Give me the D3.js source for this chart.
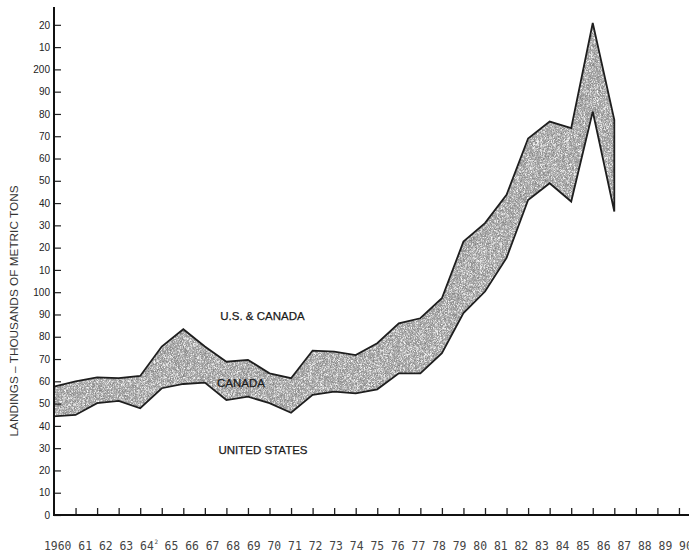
<!DOCTYPE html>
<html>
<head>
<meta charset="utf-8">
<script src="https://cdn.jsdelivr.net/npm/d3@7"></script>
<style>
  html, body { margin: 0; padding: 0; background: #fff; }
  svg { display: block; }
</style>
</head>
<body>
<svg id="chart" width="689" height="555"></svg>
<script>
// Landings, thousands of metric tons, 1960-1986
const years = [1960, 1961, 1962, 1963, 1964, 1965, 1966, 1967, 1968, 1969,
               1970, 1971, 1972, 1973, 1974, 1975, 1976, 1977, 1978, 1979,
               1980, 1981, 1982, 1983, 1984, 1985, 1986];
// Combined U.S. & Canada landings (top edge of the band)
const usCanada = [57.6, 60.0, 61.8, 61.4, 62.4, 75.6, 83.4, 75.6, 68.8, 69.6,
                  63.6, 61.4, 73.8, 73.3, 71.8, 77.1, 86.0, 88.3, 97.3, 122.7,
                  131.0, 143.7, 169.0, 176.6, 173.6, 220.8, 177.4];
// United States landings (bottom edge of the band)
const unitedStates = [44.3, 44.9, 50.2, 51.2, 47.9, 56.9, 58.8, 59.4, 51.6, 53.1,
                      50.2, 45.9, 53.9, 55.4, 54.6, 56.4, 63.6, 63.6, 72.6, 90.6,
                      100.3, 115.4, 141.4, 148.9, 140.7, 181.1, 136.2];
// Year tick labels along the bottom
const yearLabels = ["1960", "61", "62", "63", "64", "65", "66", "67", "68", "69",
                    "70", "71", "72", "73", "74", "75", "76", "77", "78", "79",
                    "80", "81", "82", "83", "84", "85", "86", "87", "88", "89", "90"];
const footnoteYear = "64";
const footnoteMark = "2";
const yTicks = d3.range(0, 221, 10);

const svg = d3.select("#chart");
const W = 689;

const x = d3.scaleLinear().domain([1960, 1990]).range([54, 700.5]);
const y = d3.scaleLinear().domain([0, 228]).range([515, 7]);

// fine stipple texture for the shaded band: dark and light specks over mid grey
const defs = svg.append("defs");
const f = defs.append("filter").attr("id", "grain")
  .attr("x", 0).attr("y", 0).attr("width", 1).attr("height", 1);
f.append("feTurbulence").attr("type", "fractalNoise").attr("baseFrequency", 1.6)
  .attr("numOctaves", 1).attr("seed", 7).attr("result", "noise");
f.append("feColorMatrix").attr("in", "noise").attr("type", "matrix")
  .attr("values", "0 0 0 0 0.22  0 0 0 0 0.22  0 0 0 0 0.22  0 0 0 3 -1.25")
  .attr("result", "dark");
f.append("feTurbulence").attr("type", "fractalNoise").attr("baseFrequency", 1.7)
  .attr("numOctaves", 1).attr("seed", 23).attr("result", "noise2");
f.append("feColorMatrix").attr("in", "noise2").attr("type", "matrix")
  .attr("values", "0 0 0 0 1  0 0 0 0 1  0 0 0 0 1  0 0 0 3 -1.4")
  .attr("result", "light");
f.append("feComposite").attr("in", "dark").attr("in2", "SourceGraphic")
  .attr("operator", "in").attr("result", "darkClip");
f.append("feComposite").attr("in", "light").attr("in2", "SourceGraphic")
  .attr("operator", "in").attr("result", "lightClip");
const fm = f.append("feMerge");
fm.append("feMergeNode").attr("in", "SourceGraphic");
fm.append("feMergeNode").attr("in", "darkClip");
fm.append("feMergeNode").attr("in", "lightClip");

const rows = years.map((yr, i) => ({ yr, hi: usCanada[i], lo: unitedStates[i] }));

const area = d3.area()
  .x(d => x(d.yr))
  .y0(d => y(d.lo))
  .y1(d => y(d.hi));

svg.append("path")
  .datum(rows)
  .attr("d", area)
  .attr("fill", "#a9a9a9")
  .attr("filter", "url(#grain)");

svg.append("path")
  .datum(rows)
  .attr("d", area)
  .attr("fill", "none")
  .attr("stroke", "#1e1e1e")
  .attr("stroke-width", 1.8)
  .attr("stroke-linejoin", "miter");

// Y axis
const yAxis = d3.axisLeft(y)
  .tickValues(yTicks)
  .tickSize(-7)
  .tickPadding(4)
  .tickFormat(v => (v === 0 || v % 100 === 0) ? String(v) : String(v % 100));

const gy = svg.append("g").attr("transform", "translate(54,0)").call(yAxis);
gy.select(".domain").remove();
gy.selectAll(".tick line").attr("stroke", "#222").attr("stroke-width", 1.2);
gy.selectAll(".tick text")
  .attr("fill", "#222")
  .style("font-family", "'Liberation Sans', Arial, sans-serif")
  .style("font-size", "10px");

svg.append("line")
  .attr("x1", 54).attr("x2", 54)
  .attr("y1", y(0) + 1).attr("y2", y(228))
  .attr("stroke", "#111").attr("stroke-width", 2);

// X axis
const xAxis = d3.axisBottom(x)
  .tickValues(d3.range(1961, 1990))
  .tickSize(-7)
  .tickFormat("");
const gx = svg.append("g").attr("transform", `translate(0,${y(0)})`).call(xAxis);
gx.select(".domain").remove();
gx.selectAll(".tick line").attr("stroke", "#222").attr("stroke-width", 1.3);

svg.append("line")
  .attr("x1", 53).attr("x2", W)
  .attr("y1", y(0)).attr("y2", y(0))
  .attr("stroke", "#111").attr("stroke-width", 2);

// Year labels, laid out like a typed line of monospace text:
// "1960" then each two-digit year three character cells further on,
// with a little extra room after the footnoted year.
const cell = d3.scaleLinear().domain([0, 1]).range([44, 44 + 6.86]);
const fnIndex = yearLabels.indexOf(footnoteYear);
const labelCenter = i => cell(i === 0 ? 2 : 3 * i + 3) + (i > fnIndex ? 4 : 0);

const labelFont = "'DejaVu Sans Mono', 'Liberation Mono', monospace";
svg.append("g").selectAll("text").data(yearLabels).enter().append("text")
  .attr("x", (d, i) => labelCenter(i))
  .attr("y", 550)
  .attr("text-anchor", "middle")
  .attr("fill", "#444")
  .style("font-family", labelFont)
  .style("font-size", "11.4px")
  .text(d => d);

svg.append("text")
  .attr("x", labelCenter(fnIndex) + 7.5)
  .attr("y", 544)
  .attr("fill", "#444")
  .style("font-family", labelFont)
  .style("font-size", "6px")
  .text(footnoteMark);

// Y axis title
svg.append("text")
  .attr("transform", "translate(18,311) rotate(-90)")
  .attr("text-anchor", "middle")
  .attr("fill", "#333")
  .style("font-family", "'Liberation Sans', Arial, sans-serif")
  .style("font-size", "11.8px")
  .text("LANDINGS – THOUSANDS OF METRIC TONS");

// Band annotations
const notes = [
  { text: "U.S. & CANADA", cx: 262.5, by: 320 },
  { text: "CANADA", cx: 241, by: 387 },
  { text: "UNITED STATES", cx: 263, by: 454 }
];
svg.selectAll("text.note").data(notes).enter().append("text")
  .attr("class", "note")
  .attr("x", d => d.cx).attr("y", d => d.by)
  .attr("text-anchor", "middle")
  .attr("fill", "#1a1a1a")
  .attr("stroke", "#1a1a1a")
  .attr("stroke-width", 0.25)
  .style("font-family", "'Liberation Sans', Arial, sans-serif")
  .style("font-size", "11.5px")
  .text(d => d.text);
</script>
</body>
</html>
